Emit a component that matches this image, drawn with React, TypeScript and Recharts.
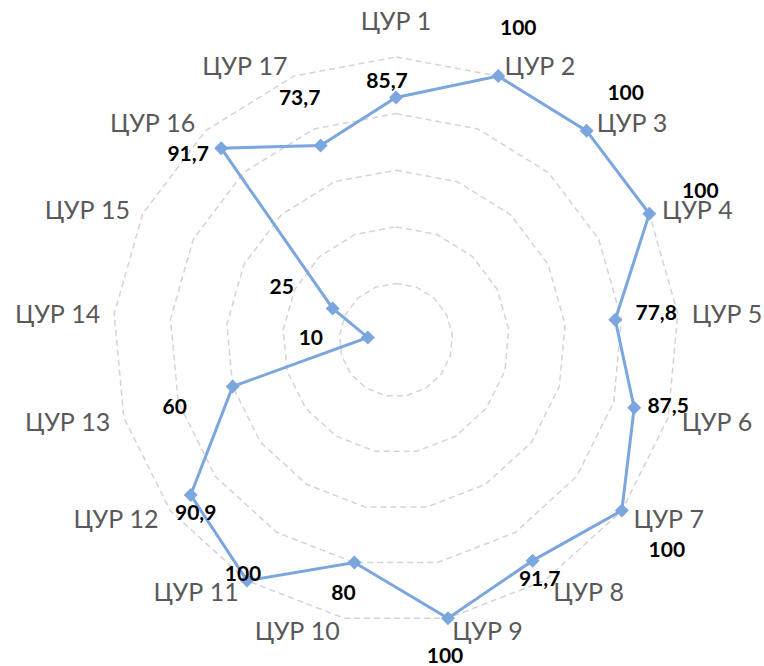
import { RadarChart, PolarGrid, PolarAngleAxis, PolarRadiusAxis, Radar } from 'recharts';

const categories = [
  'ЦУР 1', 'ЦУР 2', 'ЦУР 3', 'ЦУР 4', 'ЦУР 5', 'ЦУР 6', 'ЦУР 7', 'ЦУР 8', 'ЦУР 9',
  'ЦУР 10', 'ЦУР 11', 'ЦУР 12', 'ЦУР 13', 'ЦУР 14', 'ЦУР 15', 'ЦУР 16', 'ЦУР 17',
];
const values = [85.7, 100, 100, 100, 77.8, 87.5, 100, 91.7, 100, 80, 100, 90.9, 60, 10, 25, 91.7, 73.7];
const radiusDomain: [number, number] = [0, 100];

const data = categories.map((name, i) => ({ name, value: values[i] }));

const CX = 396;
const CY = 340;
const R = 283;
const LINE = '#7ba6de';

// hand-moved data labels in the original: offset of label centre from its point
const labelNudge: [number, number][] = [
  [-9, -18], [20, -50], [39, -39], [51, -24], [41, -8], [34, -3], [45, 38], [7, 17], [-3, 36],
  [-11, 29], [-4, -8], [5, 16], [-58, 19], [-57, -1], [-51, -23], [-33, 4], [-21, -49],
];

const fmt = (v: number) => String(v).replace('.', ',');

function AngleTick(props: any) {
  const i = categories.indexOf(props.payload.value);
  const a = (i * 2 * Math.PI) / categories.length;
  const s = Math.sin(a);
  const c = Math.cos(a);
  const px = CX + R * s;
  const py = CY - R * c;
  let x = px;
  let y = py - c * 37;
  let anchor: 'start' | 'middle' | 'end' = 'middle';
  if (Math.abs(s) > 0.1) {
    x = px + Math.sign(s) * (2 + 12 * Math.abs(s));
    y = py - c * 12;
    anchor = s > 0 ? 'start' : 'end';
  }
  return (
    <text x={x} y={y} textAnchor={anchor} dominantBaseline="central" fontSize={25} fill="#595959" fontFamily="Lato">
      {props.payload.value}
    </text>
  );
}

function DiamondDot(props: any) {
  const { cx, cy, index } = props;
  const d = 7;
  const [dx, dy] = labelNudge[index] || [0, 0];
  return (
    <g key={`dot-${index}`}>
      <polygon
        points={`${cx},${cy - d} ${cx + d},${cy} ${cx},${cy + d} ${cx - d},${cy}`}
        fill={LINE}
      />
      <text
        x={cx + dx}
        y={cy + dy}
        textAnchor="middle"
        dominantBaseline="central"
        fontSize={21}
        fontWeight="bold"
        fill="#000"
        fontFamily="Lato"
      >
        {fmt(values[index])}
      </text>
    </g>
  );
}

export default function App() {
  return (
    <div style={{ position: 'absolute', left: 0, top: 0, background: '#fff' }}>
      <RadarChart
        width={764}
        height={666}
        data={data}
        cx={CX}
        cy={CY}
        outerRadius={R}
        margin={{ top: 0, right: 0, bottom: 0, left: 0 }}
      >
        <PolarGrid gridType="polygon" radialLines={false} stroke="#d4d4d4" strokeWidth={1.5} strokeDasharray="6 4" />
        <PolarAngleAxis dataKey="name" tick={AngleTick} axisLine={false} tickLine={false} />
        <PolarRadiusAxis domain={radiusDomain} tickCount={6} tick={false} axisLine={false} />
        <Radar
          dataKey="value"
          stroke={LINE}
          strokeWidth={3}
          fill="none"
          fillOpacity={0}
          dot={DiamondDot}
          isAnimationActive={false}
        />
      </RadarChart>
    </div>
  );
}
